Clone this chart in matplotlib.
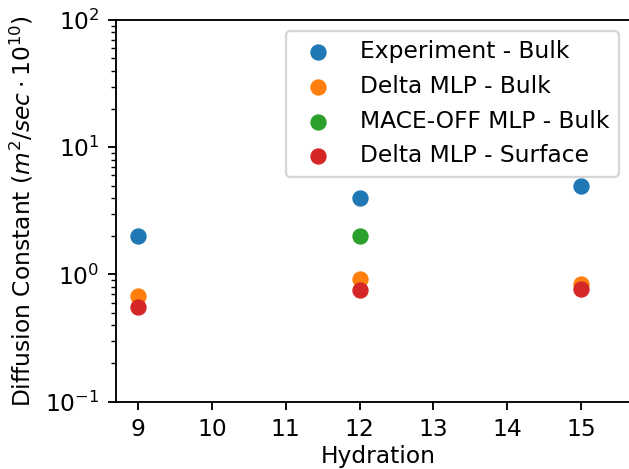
import matplotlib
matplotlib.use("Agg")
import matplotlib.pyplot as plt

hydration = [9, 12, 15]
experiment_bulk = [2.0, 4.0, 5.0]
delta_bulk = [0.675, 0.915, 0.84]
mace_x = [12]
mace_bulk = [2.0]
delta_surface = [0.555, 0.755, 0.765]

W, H, DPI = 629, 469, 168
fig = plt.figure(figsize=(W / DPI, H / DPI), dpi=DPI)
left_px, right_px, top_px, bottom_px = 115.7, 640.0, 20.0, 401.7
ax = fig.add_axes([left_px / W, 1 - bottom_px / H, (right_px - left_px) / W, (bottom_px - top_px) / H])

ax.scatter(hydration, experiment_bulk, label="Experiment - Bulk")
ax.scatter(hydration, delta_bulk, label="Delta MLP - Bulk")
ax.scatter(mace_x, mace_bulk, label="MACE-OFF MLP - Bulk")
ax.scatter(hydration, delta_surface, label="Delta MLP - Surface")

ax.set_yscale("log")
ax.set_ylim(0.1, 100)
ax.set_xlim(8.7, 8.7 + (right_px - left_px) / 73.9)
ax.set_xticks([9, 10, 11, 12, 13, 14, 15])
ax.set_xlabel("Hydration", labelpad=1.5)
ax.set_ylabel(r"Diffusion Constant ($m^2/sec \cdot 10^{10}$)")

ax.legend(loc="upper right", bbox_to_anchor=(619 / W, 1 - 31 / H),
          bbox_transform=fig.transFigure, borderaxespad=0)

fig.savefig("out.png", dpi=DPI)
